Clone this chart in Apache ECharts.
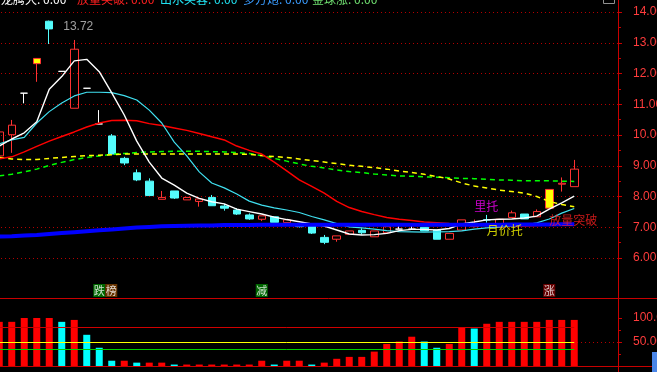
<!DOCTYPE html>
<html><head><meta charset="utf-8">
<script src="https://cdn.jsdelivr.net/npm/echarts@6/dist/echarts.min.js"></script>
<style>html,body{margin:0;padding:0;background:#000;overflow:hidden}#c{width:657px;height:372px}</style>
</head><body><div id="c"></div>
<script>
// ---------- data ----------
const categories = ['1','2','3','4','5','6','7','8','9','10','11','12','13','14','15','16','17','18','19','20',
  '21','22','23','24','25','26','27','28','29','30','31','32','33','34','35','36','37','38','39','40',
  '41','42','43','44','45','46','47','48','49','50'];
const openPrices  = [9.32,10.01,11.36,12.32,13.70,12.07,10.87,11.52,10.36,9.97,9.24,8.77,8.50,7.91,8.18,7.89,7.84,7.97,7.69,7.56,7.40,7.26,7.34,7.15,7.10,7.04,6.67,6.61,6.77,6.90,6.69,6.82,6.94,6.94,7.00,6.91,6.61,6.91,7.02,7.245,7.00,7.32,7.43,7.34,7.62,8.40,8.32];
const closePrices = [10.10,10.32,11.36,12.49,13.45,12.07,12.79,11.52,10.36,9.38,9.09,8.54,8.03,7.97,7.95,7.97,7.92,7.70,7.62,7.43,7.27,7.37,7.16,7.24,7.02,6.81,6.51,6.72,6.88,6.82,6.88,7.02,6.94,6.94,6.88,6.61,6.80,7.24,7.10,7.235,7.26,7.47,7.27,7.51,8.23,8.43,8.89];
const lowPrices   = [9.32,9.42,11.03,11.73,12.96,12.07,10.87,11.52,10.36,9.38,9.02,8.50,8.03,7.91,7.92,7.89,7.67,7.70,7.54,7.40,7.24,7.20,7.16,7.15,6.99,6.78,6.45,6.53,6.77,6.76,6.69,6.82,6.94,6.94,6.88,6.61,6.61,6.91,7.00,7.15,7.00,7.32,7.27,7.34,7.62,8.16,8.32];
const highPrices  = [10.10,10.49,11.36,12.49,13.72,12.07,13.09,11.52,10.81,10.03,9.29,8.88,8.59,8.18,8.18,7.97,7.92,8.05,7.76,7.62,7.45,7.37,7.34,7.24,7.14,7.04,6.75,6.72,6.88,6.97,6.88,7.02,7.04,7.04,7.00,6.91,6.80,7.24,7.25,7.40,7.26,7.54,7.43,7.58,8.23,8.62,9.19];
const limitUpDays = [3, 44];
const maWhite  = [9.64,9.87,10.07,10.43,11.49,11.90,12.41,12.46,12.06,11.37,10.65,9.80,9.12,8.60,8.37,8.11,7.94,7.83,7.76,7.59,7.51,7.43,7.33,7.25,7.18,7.11,7.04,6.91,6.78,6.75,6.76,6.80,6.89,6.93,6.93,6.91,6.96,7.11,7.17,7.24,7.26,7.27,7.30,7.36,7.59,7.79,8.01];
const maCyan   = [9.71,9.84,9.92,10.39,10.76,11.04,11.27,11.39,11.39,11.38,11.28,11.14,10.81,10.39,9.77,9.32,8.80,8.44,8.28,8.08,7.85,7.72,7.63,7.56,7.48,7.35,7.24,7.12,7.01,6.98,6.94,6.89,6.86,6.85,6.84,6.85,6.86,6.88,6.94,6.98,7.01,7.04,7.07,7.14,7.27,7.46,7.61];
const maRed    = [9.22,9.29,9.45,9.63,9.80,9.95,10.10,10.26,10.39,10.47,10.48,10.46,10.37,10.31,10.23,10.15,10.05,9.94,9.84,9.64,9.50,9.38,9.12,8.83,8.54,8.33,8.11,7.84,7.64,7.51,7.41,7.32,7.26,7.22,7.17,7.15,7.12,7.10,7.07,7.06,7.04,7.04,7.04,7.06,7.07,7.09,7.12];
const maYellow = [9.27,9.22,9.20,9.20,9.24,9.27,9.30,9.33,9.34,9.36,9.38,9.38,9.38,9.38,9.38,9.38,9.38,9.38,9.38,9.38,9.37,9.33,9.30,9.27,9.22,9.17,9.12,9.07,9.02,8.98,8.94,8.89,8.83,8.78,8.72,8.65,8.57,8.44,8.34,8.28,8.21,8.16,8.11,8.00,7.84,7.74,7.67];
const maGreen  = [8.67,8.72,8.80,8.89,9.01,9.11,9.20,9.27,9.32,9.37,9.40,9.43,9.45,9.46,9.47,9.47,9.47,9.46,9.45,9.43,9.40,9.33,9.24,9.15,9.06,8.98,8.93,8.86,8.81,8.78,8.73,8.70,8.67,8.66,8.64,8.63,8.61,8.59,8.58,8.56,8.54,8.53,8.51,8.51,8.51,8.50,8.49];
const costLine = [6.70,6.71,6.73,6.75,6.78,6.81,6.84,6.87,6.90,6.93,6.96,6.99,7.01,7.03,7.04,7.05,7.06,7.06,7.07,7.07,7.07,7.08,7.08,7.08,7.08,7.08,7.08,7.08,7.08,7.08,7.08,7.08,7.08,7.08,7.08,7.08,7.08,7.08,7.08,7.08,7.08,7.09,7.09,7.09,7.09,7.10,7.10];
const volumes  = [92,92,100,100,100,92,96,65,38,11,11,7,7,7,3,3,3,3,3,3,3,11,3,11,11,3,7,15,19,19,30,46,51,61,51,38,46,80,78,88,92,92,92,92,96,96,96];
const volumeUp = [1,1,1,1,1,0,1,0,0,0,1,0,1,1,0,1,1,1,1,1,1,1,0,1,1,0,1,1,1,1,1,1,1,1,0,0,1,1,0,1,1,1,1,1,1,1,1];
const volumeRefLevels = [81, 50, 35];
const priceTicks = [6, 7, 8, 9, 10, 11, 12, 13, 14];
const volumeTicks = [0, 50, 100];
const highDay = 4, highValue = 13.72;
const signalDays   = [38, 39, 44];
const signalPrices = [7.88, 7.10, 7.43];
const signalTexts  = ['里托', '月价托', '放量突破'];
const markerDays   = [8, 21, 44];
const markerTexts  = ['{g|跌}{b|榜}', '{g|减}', '{r|涨}'];
const legendNames  = ['龙腾犬', '放量突破', '出水芙蓉', '多方炮', '金球涨'];
const legendValues = ['0.00', '0.00', '0.00', '0.00', '0.00'];

// ---------- styles ----------
const UP = '#ff3232', DOWN = '#54fcfc', FLAT = '#ffffff', LIMIT = '#ffff00';
const AXIS_RED = '#c80000';
const CJK = '"Noto Sans CJK SC", sans-serif';
const signalColors = ['#ff00ff', '#ffff00', '#ff2020'];
const legendColors = ['#ffffff', '#ff2020', '#20e0f0', '#3a9cff', '#70e070'];
const legendX = [1, 77, 160, 243, 312];
const volRefColors = ['#d00000', '#ffff00', '#00d000'];

const candleData = openPrices.map((o, i) => {
  const c = closePrices[i];
  let fill, border;
  if (limitUpDays.includes(i)) { fill = LIMIT; border = UP; }
  else if (c > o) { fill = 'rgba(0,0,0,0)'; border = UP; }
  else if (c < o) { fill = DOWN; border = DOWN; }
  else { fill = FLAT; border = FLAT; }
  return { value: [o, c, lowPrices[i], highPrices[i]],
    itemStyle: { color: fill, color0: fill, borderColor: border, borderColor0: border, borderColorDoji: border } };
});
const volData = volumes.map((v, i) => ({ value: v, itemStyle: { color: volumeUp[i] ? '#ff0000' : '#00ffff' } }));

const lineSeries = (data, color, width, type, z) => ({
  type: 'line', data, xAxisIndex: 0, yAxisIndex: 0, symbol: 'none', smooth: false, silent: true, z,
  lineStyle: { color, width, type }
});

const chart = echarts.init(document.getElementById('c'), null, { renderer: 'canvas', width: 657, height: 372 });

const gridLeft = -7, gridWidth = 625;
const option = {
  backgroundColor: '#000',
  animation: false,
  grid: [
    { left: gridLeft, width: gridWidth, top: 12, height: 246, outerBoundsMode: 'none', containLabel: false },
    { left: gridLeft, width: gridWidth, top: 318, height: 48, outerBoundsMode: 'none', containLabel: false }
  ],
  xAxis: [
    { type: 'category', data: categories, gridIndex: 0, boundaryGap: true, show: false },
    { type: 'category', data: categories, gridIndex: 1, boundaryGap: true, show: false }
  ],
  yAxis: [
    { type: 'value', gridIndex: 0, position: 'right', min: priceTicks[0], max: priceTicks[priceTicks.length - 1], interval: 1,
      axisLine: { show: false },
      axisTick: { show: true, length: 4, lineStyle: { color: AXIS_RED } },
      minorTick: { show: true, splitNumber: 2, length: 3, lineStyle: { color: AXIS_RED } },
      axisLabel: { margin: 15, color: '#ff3c3c', fontSize: 12, fontFamily: 'Liberation Sans', formatter: v => v.toFixed(2) },
      splitLine: { show: true, lineStyle: { color: '#b40000', type: [1, 3], width: 1 } } },
    { type: 'value', gridIndex: 1, position: 'right', min: volumeTicks[0], max: volumeTicks[2], interval: 50,
      axisLine: { show: false },
      axisTick: { show: true, length: 4, lineStyle: { color: AXIS_RED } },
      minorTick: { show: true, splitNumber: 2, length: 3, lineStyle: { color: AXIS_RED } },
      axisLabel: { margin: 15, color: '#ff3c3c', fontSize: 12, fontFamily: 'Liberation Sans', formatter: v => v === 0 ? '' : v.toFixed(2) },
      splitLine: { show: true, lineStyle: { color: ['rgba(0,0,0,0)', '#b40000', 'rgba(0,0,0,0)'], type: [1, 3], width: 1 } } }
  ],
  series: [
    { type: 'candlestick', data: candleData, xAxisIndex: 0, yAxisIndex: 0, barWidth: 8, z: 3, silent: true },
    lineSeries(maGreen, '#00ff00', 1.5, [5, 4], 4),
    lineSeries(maYellow, '#ffff00', 1.5, [5, 4], 4),
    lineSeries(maRed, '#ff0000', 1.5, 'solid', 4),
    lineSeries(maCyan, '#40e0f0', 1.2, 'solid', 4),
    lineSeries(maWhite, '#ffffff', 1.4, 'solid', 4),
    lineSeries(costLine, '#0000ff', 4, 'solid', 6),
    { type: 'scatter', xAxisIndex: 0, yAxisIndex: 0, symbolSize: 0, clip: false, silent: true, z: 10,
      data: [[highDay, highValue]],
      label: { show: true, position: [14, 0], align: 'left', verticalAlign: 'top', color: '#c8c8c8', fontSize: 12,
        fontFamily: 'Liberation Sans', formatter: () => highValue.toFixed(2) } },
    { type: 'scatter', xAxisIndex: 0, yAxisIndex: 0, symbolSize: 0, clip: false, silent: true, z: 10,
      data: signalDays.map((d, i) => ({ value: [d, signalPrices[i]],
        label: { color: signalColors[i], formatter: signalTexts[i] } })),
      label: { show: true, position: [0, 0], align: 'left', verticalAlign: 'top', fontSize: 12, fontFamily: CJK } },
    { type: 'scatter', xAxisIndex: 0, yAxisIndex: 0, symbolSize: 0, clip: false, silent: true, z: 10,
      data: markerDays.map((d, i) => ({ value: [d, 5.155], label: { formatter: markerTexts[i] } })),
      label: { show: true, position: [-6, 0], align: 'left', verticalAlign: 'top', fontSize: 11, fontFamily: CJK,
        rich: {
          g: { backgroundColor: '#008000', color: '#ffffff', width: 12, height: 13, lineHeight: 13, align: 'center', fontSize: 11, fontFamily: CJK },
          b: { backgroundColor: '#804000', color: '#ffffff', width: 12, height: 13, lineHeight: 13, align: 'center', fontSize: 11, fontFamily: CJK },
          r: { backgroundColor: '#800000', color: '#ffffff', width: 12, height: 13, lineHeight: 13, align: 'center', fontSize: 11, fontFamily: CJK }
        } } },
    { type: 'bar', data: volData, xAxisIndex: 1, yAxisIndex: 1, barWidth: 7, silent: true, z: 3,
      markLine: { silent: true, symbol: 'none', label: { show: false }, animation: false,
        data: volumeRefLevels.map((lv, i) => [
          { coord: [0, lv], lineStyle: { color: volRefColors[i], width: 1, type: 'solid' } },
          { coord: [volumes.length - 1, lv] }
        ]) } }
  ],
  graphic: [
    { type: 'line', shape: { x1: 618.5, y1: 0, x2: 618.5, y2: 372 }, style: { stroke: AXIS_RED, lineWidth: 1 }, z: 20 },
    { type: 'line', shape: { x1: 0, y1: 298.5, x2: 657, y2: 298.5 }, style: { stroke: AXIS_RED, lineWidth: 1 }, z: 20 },
    { type: 'line', shape: { x1: 0, y1: 366.5, x2: 657, y2: 366.5 }, style: { stroke: AXIS_RED, lineWidth: 1 }, z: 20 },
    { type: 'rect', shape: { x: 652, y: 352, width: 5, height: 20 }, style: { fill: '#4a86e8' }, z: 20 },
    { type: 'rect', shape: { x: 603.5, y: -3.5, width: 11, height: 7 }, style: { fill: 'none', stroke: '#909090', lineWidth: 1 }, z: 20 },
    ...legendNames.map((n, i) => ({ type: 'text', x: legendX[i], y: 5, z: 20,
      style: { text: n + ': ' + legendValues[i], fill: legendColors[i], font: '12px ' + CJK, verticalAlign: 'bottom' } }))
  ]
};
chart.setOption(option);
</script></body></html>
